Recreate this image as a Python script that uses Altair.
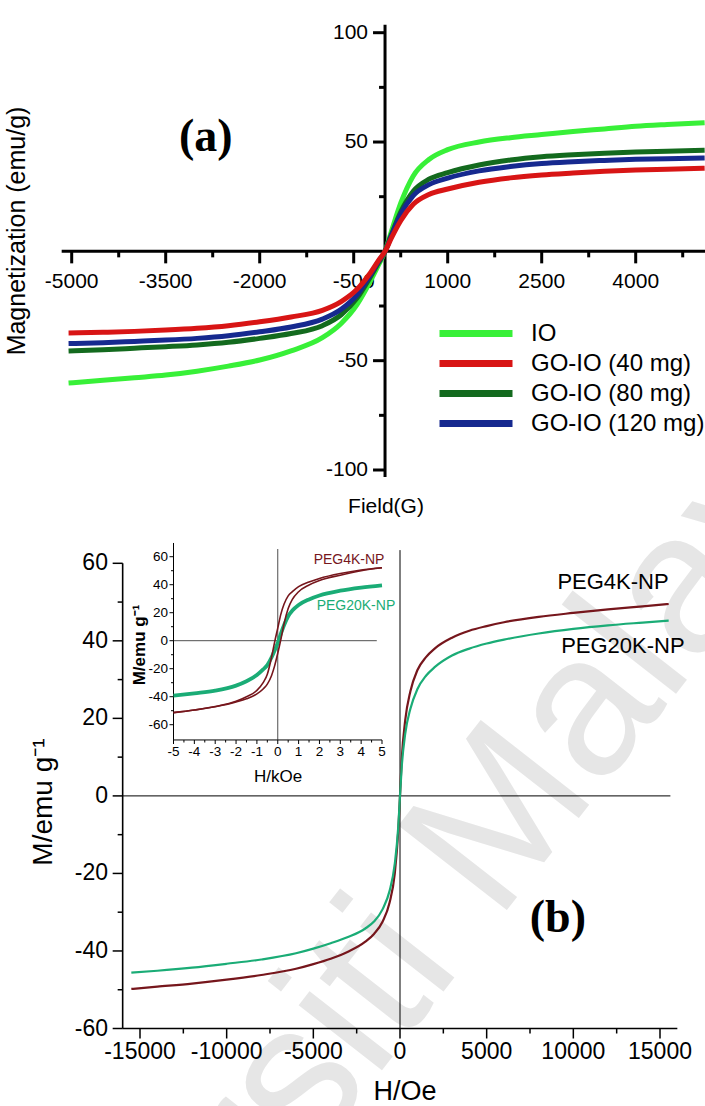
import altair as alt
import pandas as pd

CANVAS_W, CANVAS_H = 705, 1106
SANS = "Liberation Sans, Arial, sans-serif"
SERIF = "Liberation Serif, Times New Roman, serif"

# ---------------- panel (a): IO and GO-IO magnetisation, field in G ----------------
field_a = [-5050, -4500, -4000, -3500, -3000, -2500, -2000, -1500, -1000, -700, -450, -250, -100, 0,
           100, 250, 450, 700, 1000, 1500, 2000, 2500, 3000, 3500, 4000, 4500, 5100]
m_io = [-60.2, -59.0, -57.8, -56.6, -54.8, -52.5, -49.7, -45.5, -39.5, -33.0, -24.5, -14.5, -6.0, 0,
        9.0, 22.0, 34.5, 42.0, 46.5, 50.0, 52.0, 53.4, 54.8, 56.0, 57.2, 58.0, 58.8]
m_go40 = [-37.3, -37.0, -36.6, -36.0, -35.2, -34.0, -32.2, -30.0, -27.0, -23.0, -17.5, -10.5, -4.0, 0,
          6.0, 14.0, 21.5, 26.0, 28.5, 31.6, 33.6, 34.9, 35.8, 36.6, 37.2, 37.6, 38.0]
m_go80 = [-45.6, -45.0, -44.3, -43.6, -42.8, -41.6, -39.8, -37.6, -34.0, -29.0, -21.5, -12.5, -5.0, 0,
          7.5, 18.0, 27.5, 33.0, 36.0, 39.5, 41.8, 43.3, 44.2, 44.9, 45.4, 45.8, 46.2]
m_go120 = [-42.2, -41.8, -41.2, -40.6, -39.8, -38.6, -36.8, -34.6, -31.0, -26.5, -20.0, -11.5, -4.5, 0,
           7.0, 17.0, 25.5, 30.5, 33.5, 36.8, 38.8, 40.2, 41.0, 41.6, 42.1, 42.4, 42.7]
samples_a = ["IO", "GO-IO (40 mg)", "GO-IO (80 mg)", "GO-IO (120 mg)"]
colors_a = ["#38f038", "#d81515", "#136a1e", "#16298f"]
ticks_a_x = [-5000, -3500, -2000, -500, 1000, 2500, 4000]
minor_a_x = [-4250, -2750, -1250, 250, 1750, 3250, 4750]
ticks_a_y = [-100, -50, 50, 100]
minor_a_y = [-75, -25, 25, 75]

# ---------------- panel (b): PEG coated nanoparticles, field in Oe ----------------
field_b = [-15500, -14000, -12000, -10000, -8000, -6000, -5000, -4000, -3000, -2000, -1500, -1000,
           -600, -300, -100, 0, 100, 300, 600, 1000, 1500, 2000, 3000, 4000, 5000, 6000, 8000,
           10000, 12000, 14000, 15500]
m_peg4k = [-49.8, -49.2, -48.4, -47.4, -46.2, -44.6, -43.4, -42.0, -40.2, -37.6, -35.6, -32.4,
           -27.5, -20.0, -9.0, 0, 9.5, 19.5, 27.0, 32.4, 35.8, 38.0, 40.8, 42.6, 43.8, 44.8, 46.2,
           47.2, 48.1, 48.9, 49.5]
m_peg20k = [-45.6, -45.1, -44.3, -43.3, -42.2, -40.6, -39.4, -38.0, -36.4, -34.2, -32.4, -29.2,
            -24.5, -17.5, -8.0, 0, 7.5, 16.0, 22.5, 27.5, 31.0, 33.2, 36.2, 38.0, 39.3, 40.3, 41.9,
            43.1, 44.0, 44.7, 45.2]
ticks_b_x = [-15000, -10000, -5000, 0, 5000, 10000, 15000]
minor_b_x = [-12500, -7500, -2500, 2500, 7500, 12500]
ticks_b_y = [-60, -40, -20, 0, 20, 40, 60]
minor_b_y = [-50, -30, -10, 10, 30, 50]

# inset of (b): field in kOe, PEG4K loop drawn as two branches
field_inset = [-5, -4, -3, -2, -1.5, -1, -0.7, -0.5, -0.3, -0.15, 0, 0.15, 0.3, 0.5, 0.7, 1, 1.5, 2, 3, 4, 5]
m_peg4k_down = [-51.4, -49.5, -47.0, -43.3, -40.0, -35.5, -30.0, -24.0, -12.0, -1.0, 9.0, 19.0, 26.0,
                32.0, 35.0, 38.6, 42.0, 44.5, 48.0, 50.5, 52.1]
m_peg4k_up = [-51.4, -49.5, -47.2, -43.8, -41.5, -38.0, -34.5, -31.0, -25.0, -18.0, -9.0, 1.0, 12.0,
              23.0, 29.5, 35.0, 39.8, 43.0, 46.8, 50.0, 52.1]
m_peg20k_inset = [-39.3, -37.6, -35.7, -32.1, -29.0, -24.5, -20.5, -17.4, -12.0, -7.0, -1.5, 5.0, 11.0,
                  17.5, 21.5, 25.5, 29.5, 32.3, 35.7, 37.9, 39.5]
ticks_i_x = [-5, -4, -3, -2, -1, 0, 1, 2, 3, 4, 5]
minor_i_x = [-4.5, -3.5, -2.5, -1.5, -0.5, 0.5, 1.5, 2.5, 3.5, 4.5]
ticks_i_y = [-60, -40, -20, 0, 20, 40, 60]
minor_i_y = [-50, -30, -10, 10, 30, 50]

col_peg4k = "#76161c"
col_peg20k = "#1aac76"


# ---------------- layout: every panel shares one canvas-sized plot area ----------------
def x_domain(v0, p0, v1, p1):
    k = (p1 - p0) / (v1 - v0)
    return [v0 - p0 / k, v0 + (CANVAS_W - p0) / k]


def y_domain(v0, p0, v1, p1):
    k = (p1 - p0) / (v1 - v0)
    return [v0 + (CANVAS_H - p0) / k, v0 - p0 / k]


XA = x_domain(-5000, 71.7, 4000, 635.7)
YA = y_domain(100, 32.7, -100, 470.0)
XB = x_domain(-15000, 140.0, 15000, 660.0)
YB = y_domain(60, 563.3, -60, 1028.5)
XI = x_domain(-5, 173.5, 5, 382.0)
YI = y_domain(60, 556.7, -60, 724.7)


def sc(dom):
    return alt.Scale(domain=dom, nice=False, zero=False)


def fx(field, dom):
    return alt.X(field, type="quantitative", scale=sc(dom), axis=None)


def fy(field, dom):
    return alt.Y(field, type="quantitative", scale=sc(dom), axis=None)


def dx(v, dom):
    return alt.XDatum(v, type="quantitative", scale=sc(dom), axis=None)


def dy(v, dom):
    return alt.YDatum(v, type="quantitative", scale=sc(dom), axis=None)


def label_text(v):
    return str(int(v)) if float(v).is_integer() else str(v)


one = pd.DataFrame({"k": [0]})


# axis pieces drawn through each panel's own scales
def x_ticks(vals, X, Y, at, size, width):
    return alt.Chart(pd.DataFrame({"v": vals})).mark_tick(
        orient="vertical", size=size, thickness=width, yOffset=size / 2, color="black", opacity=1
    ).encode(x=fx("v", X), y=dy(at, Y))


def y_ticks(vals, X, Y, at, size, width):
    return alt.Chart(pd.DataFrame({"v": vals})).mark_tick(
        orient="horizontal", size=size, thickness=width, xOffset=-size / 2, color="black", opacity=1
    ).encode(y=fy("v", Y), x=dx(at, X))


def x_labels(vals, X, Y, at, off, fs):
    df = pd.DataFrame({"v": vals, "t": [label_text(v) for v in vals]})
    return alt.Chart(df).mark_text(
        dy=off, font=SANS, fontSize=fs, color="black", align="center", baseline="middle"
    ).encode(x=fx("v", X), y=dy(at, Y), text="t:N")


def y_labels(vals, X, Y, at, off, fs):
    df = pd.DataFrame({"v": vals, "t": [label_text(v) for v in vals]})
    return alt.Chart(df).mark_text(
        dx=-off, font=SANS, fontSize=fs, color="black", align="right", baseline="middle"
    ).encode(y=fy("v", Y), x=dx(at, X), text="t:N")


def title(text, px, py, fs, angle=0, weight="normal"):
    props = dict(font=SANS, fontSize=fs, fontWeight=weight, color="black",
                 align="center", baseline="middle")
    if angle:
        props["angle"] = angle
    return alt.Chart(one).mark_text(**props).encode(
        x=alt.value(px), y=alt.value(py), text=alt.value(text))


def hrule(y, x1, x2, X, Y, w, color="black"):
    return alt.Chart(one).mark_rule(strokeWidth=w, color=color).encode(
        y=dy(y, Y), x=dx(x1, X), x2=alt.X2Datum(x2))


def vrule(x, y1, y2, X, Y, w, color="black"):
    return alt.Chart(one).mark_rule(strokeWidth=w, color=color).encode(
        x=dx(x, X), y=dy(y1, Y), y2=alt.Y2Datum(y2))


# ---------------- panel (a) ----------------
rows_a = []
for name, vals in [("IO", m_io), ("GO-IO (80 mg)", m_go80), ("GO-IO (120 mg)", m_go120),
                   ("GO-IO (40 mg)", m_go40)]:
    for h, m in zip(field_a, vals):
        rows_a.append({"h": h, "m": m, "sample": name})
df_a = pd.DataFrame(rows_a)

curves_a = alt.Chart(df_a).mark_line(strokeWidth=5, interpolate="monotone").encode(
    x=fx("h", XA),
    y=fy("m", YA),
    color=alt.Color("sample:N", scale=alt.Scale(domain=samples_a, range=colors_a),
                    legend=alt.Legend(orient="none", legendX=436, legendY=322, title=None,
                                      symbolType="stroke", symbolSize=73 * 73,
                                      symbolStrokeWidth=7, clipHeight=23, rowPadding=5,
                                      labelFont=SANS, labelFontSize=24, labelColor="black",
                                      labelOffset=15, labelLimit=400, padding=0)),
)
tag_a = alt.Chart(one).mark_text(font=SERIF, fontSize=46, fontWeight="bold", color="black").encode(
    x=dx(-2860, XA), y=dy(52.5, YA), text=alt.value("(a)"))

panel_a = alt.layer(
    x_labels(ticks_a_x, XA, YA, 0, 31, 21),
    y_labels(ticks_a_y, XA, YA, 0, 17, 21),
    vrule(0, -103.2, 103.6, XA, YA, 3),
    hrule(0, -5160, XA[1], XA, YA, 3),
    x_ticks(ticks_a_x, XA, YA, 0, 12, 3),
    x_ticks(minor_a_x, XA, YA, 0, 6, 3),
    y_ticks(ticks_a_y, XA, YA, 0, 12, 3),
    y_ticks(minor_a_y, XA, YA, 0, 6, 3),
    curves_a,
    tag_a,
)

# ---------------- panel (b) ----------------
line_b4 = alt.Chart(pd.DataFrame({"h": field_b, "m": m_peg4k})).mark_line(
    strokeWidth=2.2, color=col_peg4k, interpolate="monotone").encode(x=fx("h", XB), y=fy("m", YB))
line_b20 = alt.Chart(pd.DataFrame({"h": field_b, "m": m_peg20k})).mark_line(
    strokeWidth=2.2, color=col_peg20k, interpolate="monotone").encode(x=fx("h", XB), y=fy("m", YB))
lab_b4 = alt.Chart(one).mark_text(font=SANS, fontSize=22, color="black").encode(
    x=dx(12290, XB), y=dy(55.2, YB), text=alt.value("PEG4K-NP"))
lab_b20 = alt.Chart(one).mark_text(font=SANS, fontSize=22, color="black").encode(
    x=dx(12860, XB), y=dy(38.7, YB), text=alt.value("PEG20K-NP"))
tag_b = alt.Chart(one).mark_text(font=SERIF, fontSize=46, fontWeight="bold", color="black").encode(
    x=dx(9110, XB), y=dy(-31.5, YB), text=alt.value("(b)"))

panel_b = alt.layer(
    x_labels(ticks_b_x, XB, YB, -60, 23.5, 23),
    y_labels(ticks_b_y, XB, YB, -16000, 14.7, 23),
    vrule(-16000, -60, 60, XB, YB, 1.6),
    hrule(-60, -16000, 16000, XB, YB, 1.6),
    hrule(0, -16000, 15600, XB, YB, 1),
    vrule(0, -60, 63.4, XB, YB, 1),
    x_ticks(ticks_b_x, XB, YB, -60, 10, 1.5),
    x_ticks(minor_b_x, XB, YB, -60, 5, 1.5),
    y_ticks(ticks_b_y, XB, YB, -16000, 10, 1.5),
    y_ticks(minor_b_y, XB, YB, -16000, 5, 1.5),
    line_b4, line_b20, lab_b4, lab_b20, tag_b,
)

# ---------------- inset of (b) ----------------
n_i = len(field_inset)
df_i4 = pd.DataFrame({"h": field_inset * 2, "m": m_peg4k_down + m_peg4k_up,
                      "branch": ["down"] * n_i + ["up"] * n_i})
df_i20 = pd.DataFrame({"h": field_inset, "m": m_peg20k_inset})
ybot_i = -70.9

line_i20 = alt.Chart(df_i20).mark_line(strokeWidth=3.8, color=col_peg20k, interpolate="monotone").encode(
    x=fx("h", XI), y=fy("m", YI))
line_i4 = alt.Chart(df_i4).mark_line(strokeWidth=1.6, color=col_peg4k, interpolate="monotone").encode(
    x=fx("h", XI), y=fy("m", YI), detail="branch:N")
lab_i4 = alt.Chart(one).mark_text(font=SANS, fontSize=14, color=col_peg4k).encode(
    x=dx(3.42, XI), y=dy(57.6, YI), text=alt.value("PEG4K-NP"))
lab_i20 = alt.Chart(one).mark_text(font=SANS, fontSize=14, color=col_peg20k).encode(
    x=dx(3.75, XI), y=dy(24.8, YI), text=alt.value("PEG20K-NP"))

panel_i = alt.layer(
    x_labels(ticks_i_x, XI, YI, ybot_i, 12, 13.5),
    y_labels(ticks_i_y, XI, YI, -5, 5.5, 13.5),
    vrule(-5, ybot_i, 69.8, XI, YI, 1),
    hrule(ybot_i, -5, 5, XI, YI, 1),
    hrule(0, -5, 4.75, XI, YI, 0.8, "#222"),
    vrule(0, ybot_i, 65.5, XI, YI, 0.8, "#222"),
    x_ticks(ticks_i_x, XI, YI, ybot_i, 4, 1),
    x_ticks(minor_i_x, XI, YI, ybot_i, 2.5, 1),
    y_ticks(ticks_i_y, XI, YI, -5, 4, 1),
    y_ticks(minor_i_y, XI, YI, -5, 2.5, 1),
    line_i20, line_i4, lab_i4, lab_i20,
)

# ---------------- axis titles ----------------
titles = alt.layer(
    title("Magnetization (emu/g)", 17, 231, 25, angle=270),
    title("Field(G)", 386, 507, 21),
    title("M/emu g\u207b\u00b9", 44, 802, 28, angle=270),
    title("H/Oe", 405, 1092, 27),
    title("M/emu g\u207b\u00b9", 140, 645, 17, angle=270, weight="bold"),
    title("H/kOe", 278, 777, 17),
)

# ---------------- background watermark ----------------
watermark = alt.Chart(one).mark_text(
    font=SANS, fontSize=200, color="#e6e6e6", angle=308, align="center", baseline="alphabetic"
).encode(x=alt.value(425), y=alt.value(1015), text=alt.value("Universiti Malaya"))

chart = alt.layer(watermark, panel_a, panel_b, panel_i, titles).resolve_scale(
    x="independent", y="independent"
).properties(
    width=CANVAS_W, height=CANVAS_H, padding=0,
    autosize=alt.AutoSizeParams(type="none"),
    background="white",
).configure_view(stroke=None)

chart.save("out.html", embed_options={"renderer": "svg", "actions": False})
